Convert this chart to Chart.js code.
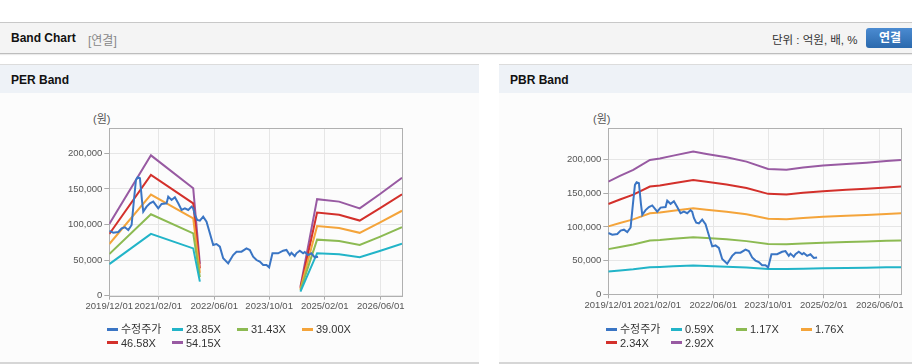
<!DOCTYPE html>
<html>
<head>
<meta charset="utf-8">
<script src="https://cdn.jsdelivr.net/npm/chart.js@4"></script>
<style>
  body { margin: 0; width: 912px; height: 364px; overflow: hidden; background: #fff;
         font-family: "Liberation Sans", "Noto Sans CJK KR", sans-serif; position: relative; }
  .topbar { position: absolute; left: 0; top: 22px; width: 912px; height: 30px; background: #f4f4f4;
            border-top: 1px solid #c8c8c8; border-bottom: 1px solid #bdbdbd; box-shadow: 0 1px 1px rgba(0,0,0,0.08); }
  .topbar .ttl { position: absolute; left: 11px; top: 8px; font-size: 12px; font-weight: bold; color: #111; }
  .topbar .sub { position: absolute; left: 88px; top: 8px; font-size: 12px; color: #888; }
  .topbar .unit { position: absolute; left: 772px; top: 8px; font-size: 11.5px; color: #333; }
  .topbar .btn { position: absolute; left: 866px; top: 5px; width: 48px; height: 20px; border-radius: 3px;
                 background: linear-gradient(#4b8bd1, #2b69ad); color: #fff; font-size: 12px; font-weight: bold;
                 text-align: center; line-height: 20px; }
  .panel { position: absolute; top: 64px; height: 297px; background: #fcfcfc;
           border-top: 1px solid #dcdcdc; border-bottom: 2px solid #d6d6d6; }
  .panel .head { height: 28px; background: #eef2f7; }
  .panel .head span { position: absolute; left: 11px; top: 8px; font-size: 12px; font-weight: bold; color: #111; }
  .won { position: absolute; top: 110px; font-size: 11px; color: #555; }
  canvas { position: absolute; }
  .legend { position: absolute; top: 323px; width: 270px; font-size: 11px; color: #333; }
  .legend .item { display: inline-block; width: 65px; height: 13.5px; line-height: 13.5px; white-space: nowrap; vertical-align: top; }
  .legend .sw { display: inline-block; width: 11px; height: 3px; margin-right: 3px; vertical-align: middle; position: relative; top: -1px; }
</style>
</head>
<body>
<div class="topbar">
  <span class="ttl">Band Chart</span><span class="sub">[연결]</span>
  <span class="unit">단위 : 억원, 배, %</span>
  <div class="btn">연결</div>
</div>

<div class="panel" style="left:0;width:479px;"><div class="head"><span>PER Band</span></div></div>
<div class="panel" style="left:499px;width:413px;"><div class="head"><span>PBR Band</span></div></div>

<div class="won" style="left:93px;">(원)</div>
<div class="won" style="left:593px;">(원)</div>

<canvas id="perChart" style="left:0;top:93px;" width="479" height="269"></canvas>
<canvas id="pbrChart" style="left:499px;top:93px;" width="413" height="269"></canvas>

<div class="legend" id="perLegend" style="left:107px;"></div>
<div class="legend" id="pbrLegend" style="left:606px;"></div>

<script>
// x축 눈금 (축 위치 단위)
const xTickPos = [0, 147, 315, 480, 647, 815];
const xTickLabels = ['2019/12/01', '2021/02/01', '2022/06/01', '2023/10/01', '2025/02/01', '2026/06/01'];
const xMax = 879;
// y축 눈금
const yTicks = [0, 50000, 100000, 150000, 200000];

// 수정주가 (PER, PBR 공통)
const priceX = [0, 12, 27, 37, 47, 57, 67, 74, 80, 85, 92, 98, 102, 112, 122, 132, 147, 157, 172, 177,
  187, 197, 207, 217, 227, 237, 247, 252, 257, 264, 272, 282, 292, 302, 312, 322, 332, 342, 357, 372,
  382, 397, 412, 422, 432, 442, 452, 462, 472, 480, 490, 507, 522, 532, 542, 547, 557, 562, 572, 582,
  587, 597, 607, 617, 627];
const price = [91000, 88500, 89500, 94600, 96000, 92300, 99300, 134400, 162500, 166300, 164900, 134400, 118000, 125100, 129700, 132100, 122700, 128800, 129700, 139100,
  134400, 138200, 129700, 120400, 122700, 120400, 125100, 122700, 113400, 106300, 105400, 111000, 104000, 87600, 71200, 72600, 68900, 52500, 45400, 57100,
  61800, 61800, 66500, 64200, 54800, 50100, 47800, 43100, 43100, 39800, 59500, 59500, 63200, 64200, 57100, 60400, 55700, 59500, 63200, 59500,
  61400, 57100, 59500, 53900, 54800];

// PER 밴드
const perX = [0, 125, 252, 272, 420, 574, 624, 690, 752, 812, 879];
const per2385 = [44400, 86800, 66400, 19700, null, 5600, 59700, 58200, 54000, 62700, 73000];
const per3143 = [58500, 114400, 87500, 26000, null, 7400, 78700, 76700, 71200, 82700, 96200];
const per3900 = [72600, 142000, 108600, 32200, null, 9200, 97700, 95200, 88300, 102600, 119300];
const per4658 = [86700, 169600, 129700, 38500, null, 10900, 116700, 113700, 105500, 122500, 142500];
const per5415 = [100800, 197100, 150800, 44700, null, 12700, 135600, 132100, 122600, 142400, 165700];

// PBR 밴드
const pbrX = [0, 35, 75, 125, 155, 195, 255, 295, 355, 415, 480, 535, 585, 645, 715, 775, 835, 879];
const pbr059 = [33800, 35500, 37300, 40300, 40700, 41600, 42800, 42100, 41100, 39800, 37600, 37400, 38000, 38600, 39100, 39500, 40000, 40300];
const pbr117 = [67100, 70400, 74000, 80000, 80800, 82500, 84900, 83500, 81600, 79000, 74600, 74200, 75400, 76600, 77600, 78400, 79400, 80000];
const pbr176 = [100900, 106000, 111300, 120300, 121500, 124200, 127800, 125700, 122700, 118800, 112200, 111600, 113400, 115200, 116800, 117900, 119400, 120300];
const pbr234 = [134200, 140900, 148000, 160000, 161600, 165100, 169900, 167100, 163200, 158000, 149200, 148400, 150800, 153200, 155200, 156800, 158700, 160000];
const pbr292 = [167400, 175800, 184700, 199600, 201600, 206000, 212000, 208500, 203600, 197100, 186200, 185200, 188200, 191200, 193700, 195600, 198100, 199600];

const colors = ['#3a75c4', '#22b4c8', '#8cba52', '#f4a43a', '#d3302b', '#985aa2'];

function pts(xs, ys) {
  return xs.map((x, i) => ({ x: x, y: ys[i] }));
}

function ds(label, xs, ys, i) {
  return { label: label, data: pts(xs, ys), borderColor: colors[i], backgroundColor: colors[i],
           borderWidth: 2, pointRadius: 0, tension: 0, spanGaps: false };
}

// 플롯 테두리
const frame = {
  id: 'frame',
  beforeDatasetsDraw(chart) {
    const a = chart.chartArea, c = chart.ctx;
    c.save();
    c.strokeStyle = '#b0b0b0';
    c.lineWidth = 1;
    c.strokeRect(Math.round(a.left) + 0.5, Math.round(a.top) + 0.5, Math.round(a.right - a.left), Math.round(a.bottom - a.top));
    c.restore();
  }
};

function makeChart(id, legendId, datasets, yMax, pad) {
  const chart = new Chart(document.getElementById(id), {
    type: 'line',
    data: { datasets: datasets },
    options: {
      responsive: false,
      animation: false,
      layout: { padding: pad },
      plugins: { legend: { display: false }, tooltip: { enabled: false } },
      scales: {
        x: {
          type: 'linear', min: 0, max: xMax,
          afterBuildTicks(s) { s.ticks = xTickPos.map(v => ({ value: v })); },
          afterFit(s) { s.height = 20; },
          ticks: {
            autoSkip: false, maxRotation: 0, padding: 1, color: '#555',
            font: { size: 9.5, family: 'Liberation Sans' },
            callback: v => xTickLabels[xTickPos.indexOf(v)]
          },
          grid: { color: '#e6e6e6', tickColor: '#aaa', tickLength: 4 },
          border: { display: false }
        },
        y: {
          type: 'linear', min: 0, max: yMax,
          afterBuildTicks(s) { s.ticks = yTicks.map(v => ({ value: v })); },
          afterFit(s) { s.width = 109.3; },
          ticks: {
            autoSkip: false, padding: 2, color: '#555',
            font: { size: 9.5, family: 'Liberation Sans' },
            callback: v => v.toLocaleString('en-US')
          },
          grid: { color: '#e6e6e6', tickColor: '#aaa', tickLength: 5 },
          border: { display: false }
        }
      }
    },
    plugins: [frame]
  });

  // 범례
  const box = document.getElementById(legendId);
  datasets.forEach((d, i) => {
    const it = document.createElement('span');
    it.className = 'item';
    it.innerHTML = '<span class="sw" style="background:' + d.borderColor + '"></span>' + d.label;
    box.appendChild(it);
    if (i === 3) box.appendChild(document.createElement('br'));
  });
  return chart;
}

makeChart('perChart', 'perLegend', [
  ds('수정주가', priceX, price, 0),
  ds('23.85X', perX, per2385, 1),
  ds('31.43X', perX, per3143, 2),
  ds('39.00X', perX, per3900, 3),
  ds('46.58X', perX, per4658, 4),
  ds('54.15X', perX, per5415, 5)
], 235500, { left: 0, top: 35, right: 77, bottom: 46.3 });

makeChart('pbrChart', 'pbrLegend', [
  ds('수정주가', priceX, price, 0),
  ds('0.59X', pbrX, pbr059, 1),
  ds('1.17X', pbrX, pbr117, 2),
  ds('1.76X', pbrX, pbr176, 3),
  ds('2.34X', pbrX, pbr234, 4),
  ds('2.92X', pbrX, pbr292, 5)
], 246600, { left: 0, top: 35.3, right: 11, bottom: 47.7 });
</script>
</body>
</html>
